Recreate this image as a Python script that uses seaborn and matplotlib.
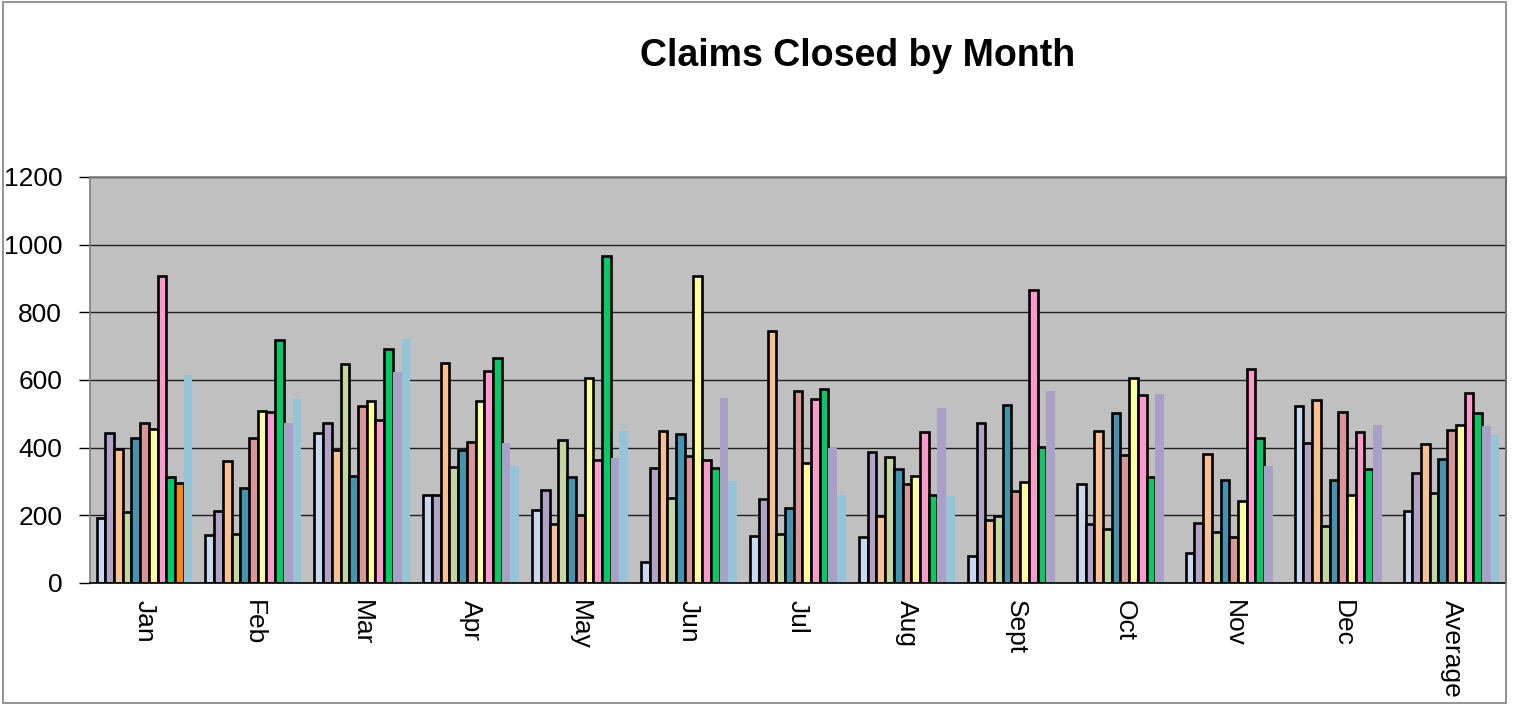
import pandas as pd
import numpy as np
import matplotlib
matplotlib.use("Agg")
import matplotlib.pyplot as plt
from matplotlib.patches import Rectangle
import seaborn as sns

# Categories along the x axis
months = ['Jan', 'Feb', 'Mar', 'Apr', 'May', 'Jun', 'Jul', 'Aug',
          'Sept', 'Oct', 'Nov', 'Dec', 'Average']

# One list per series
series_1 = [192, 141, 442, 260, 215, 63, 140, 136, 81, 292, 89, 522, 214]
series_2 = [443, 213, 473, 260, 276, 339, 249, 386, 474, 174, 178, 414, 324]
series_3 = [397, 361, 393, 650, 174, 448, 745, 199, 187, 450, 380, 540, 411]
series_4 = [209, 144, 646, 343, 422, 252, 146, 372, 197, 160, 150, 167, 267]
series_5 = [430, 282, 315, 392, 313, 440, 221, 338, 525, 501, 303, 304, 366]
series_6 = [473, 428, 522, 417, 201, 376, 567, 294, 271, 379, 135, 506, 453]
series_7 = [455, 507, 537, 539, 605, 907, 354, 315, 299, 607, 243, 259, 468]
series_8 = [908, 504, 483, 627, 365, 364, 544, 446, 865, 556, 632, 446, 563]
series_9 = [314, 717, 692, 666, 966, 341, 572, 260, 403, 313, 428, 336, 502]
series_10 = [296, 474, 625, 415, 370, 548, 400, 516, 567, 558, 345, 467, 465]
series_11 = [614, 544, 722, 345, 448, 302, 259, 256, np.nan, np.nan, np.nan, np.nan, 437]

series_names = ['S1', 'S2', 'S3', 'S4', 'S5', 'S6', 'S7', 'S8', 'S9', 'S10', 'S11']
series_colors = ['#C6D9F1', '#B3A2C7', '#FAC090', '#C3D69B', '#4095B0', '#D99694',
                 '#FFFF99', '#FF99CC', '#00CC66', '#AA9FC6', '#93C5D6']
outlined = [True] * 9 + [False, False]

all_series = [series_1, series_2, series_3, series_4, series_5, series_6,
              series_7, series_8, series_9, series_10, series_11]

# Long-form table for seaborn
rows = []
for name, values in zip(series_names, all_series):
    for month, v in zip(months, values):
        rows.append({'Month': month, 'Series': name, 'Claims': v})
df = pd.DataFrame(rows).dropna()

sns.set_style("white")
plt.rcParams['font.family'] = ['Liberation Sans', 'DejaVu Sans']
plt.rcParams['text.color'] = 'black'
plt.rcParams['xtick.color'] = 'black'
plt.rcParams['ytick.color'] = 'black'

W, H = 1514, 705
fig = plt.figure(figsize=(W / 100, H / 100), dpi=100)
ax = fig.add_axes([90 / W, (H - 583) / H, (1506 - 90) / W, (583 - 177) / H])

sns.barplot(data=df, x='Month', y='Claims', hue='Series', order=months,
            hue_order=series_names, palette=series_colors, width=0.88,
            saturation=1, legend=False, errorbar=None, ax=ax)

for i, cont in enumerate(ax.containers):
    for bar in cont.patches:
        if outlined[i]:
            bar.set_edgecolor('black')
            bar.set_linewidth(1.9)
        else:
            bar.set_edgecolor('none')
            bar.set_linewidth(0)
        # the Jan point of series 10 is formatted orange with an outline
        if i == 9 and abs(bar.get_x() + bar.get_width() / 2) < 0.5:
            bar.set_facecolor('#FF850A')
            bar.set_edgecolor('black')
            bar.set_linewidth(1.9)

ax.set_facecolor('#C0C0C0')
ax.set_xlim(-0.5, len(months) - 0.5)
ax.set_ylim(0, 1200)
ax.set_yticks(range(0, 1201, 200))
ax.set_axisbelow(True)
ax.yaxis.grid(True, color='#202020', linewidth=1.0)
ax.xaxis.grid(False)
ax.set_xlabel('')
ax.set_ylabel('')

ax.tick_params(axis='y', left=True, length=8, width=1, color='black',
               labelcolor='black', pad=12, labelsize=19)
ax.tick_params(axis='x', bottom=False, length=0, pad=12, labelsize=19,
               labelcolor='black')
for lab in ax.get_xticklabels():
    lab.set_rotation(270)
    lab.set_va('top')
    lab.set_ha('center')

ax.spines['left'].set_color('#808080')
ax.spines['top'].set_color('#808080')
ax.spines['bottom'].set_color('black')
ax.spines['right'].set_color('black')
for s in ax.spines.values():
    s.set_linewidth(1.2)
    s.set_visible(True)

fig.text(858 / W, 1 - 56 / H, 'Claims Closed by Month', ha='center', va='center',
         fontsize=27, fontweight='bold', color='black')

# chart border
fig.patches.append(Rectangle((3 / W, 2 / H), (1506 - 3) / W, (H - 4) / H,
                             transform=fig.transFigure, fill=False,
                             edgecolor='#808080', linewidth=1.2))

fig.savefig('out.png', dpi=100)
